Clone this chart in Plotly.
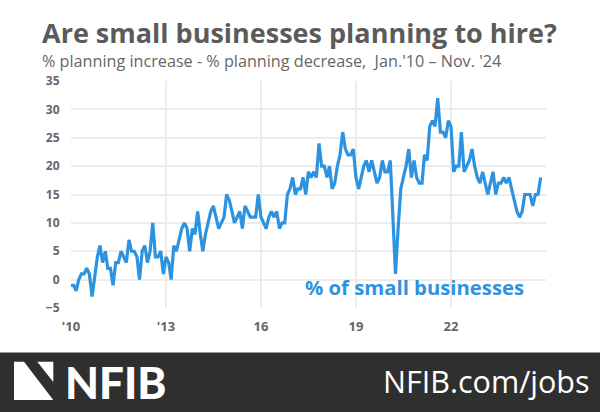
import pandas as pd
import plotly.graph_objects as go

# ── Data (Jan 2010 – Nov 2024) ──────────────────────────────────────────────
START_MONTH = "2010-01-01"

net_hiring_plans = [
    # 2010
    -1, -1, -2, 0, 1, 1, 2, 1, -3, 1, 4, 6,
    # 2011
    3, 5, 2, 2, -1, 3, 3, 5, 4, 3, 7, 5,
    # 2012
    5, 4, 0, 5, 6, 3, 5, 10, 4, 4, 5, 1,
    # 2013
    4, 3, 0, 6, 5, 7, 9, 10, 9, 5, 9, 8,
    # 2014
    12, 8, 5, 8, 10, 12, 13, 11, 9, 10, 11, 15,
    # 2015
    14, 12, 10, 11, 12, 9, 13, 12, 11, 11, 11, 15,
    # 2016
    11, 10, 9, 11, 12, 11, 12, 9, 10, 10, 15, 16,
    # 2017
    18, 15, 16, 16, 18, 15, 19, 18, 19, 18, 24, 20,
    # 2018
    20, 18, 20, 16, 17, 20, 22, 26, 23, 22, 22, 23,
    # 2019
    18, 16, 18, 20, 21, 19, 21, 19, 17, 18, 21, 19,
    # 2020
    19, 21, 11, 1, 9, 16, 18, 20, 23, 18, 21, 18,
    # 2021
    17, 17, 22, 21, 27, 28, 27, 32, 26, 26, 25, 28,
    # 2022
    27, 19, 20, 20, 26, 19, 20, 21, 23, 20, 18, 17,
    # 2023
    19, 17, 15, 17, 19, 15, 17, 17, 18, 17, 18, 16,
    # 2024
    14, 12, 11, 12, 15, 15, 15, 13, 15, 15, 18,
]

x_tick_dates = ["2010-01-01", "2013-01-01", "2016-01-01", "2019-01-01", "2022-01-01"]
x_tick_labels = ["'10", "'13", "16", "19", "22"]
y_tick_values = [-5, 0, 5, 10, 15, 20, 25, 30, 35]

months = pd.date_range(START_MONTH, periods=len(net_hiring_plans), freq="MS")

# ── Layout geometry (pixels) ────────────────────────────────────────────────
W, H = 600, 412
M_L, M_R, M_T, M_B = 71, 54, 81, 104
PW, PH = W - M_L - M_R, H - M_T - M_B

BLUE = "#2d93e1"
GREY = "#5b5b5b"
DARK = "#2f2f2f"


def px(x):
    return (x - M_L) / PW


def py(y):
    return (H - M_B - y) / PH


def path(points):
    return "M " + " L ".join(f"{px(x):.4f},{py(y):.4f}" for x, y in points) + " Z"


fig = go.Figure()
fig.add_trace(
    go.Scatter(
        x=months,
        y=net_hiring_plans,
        mode="lines",
        line=dict(color=BLUE, width=3.2),
        hoverinfo="x+y",
        showlegend=False,
    )
)

shapes = [
    # footer band
    dict(type="rect", xref="paper", yref="paper", x0=px(0), x1=px(W), y0=py(352.5), y1=py(H),
         fillcolor=DARK, line=dict(width=0), layer="below"),
    # NFIB mark
    dict(type="path", xref="paper", yref="paper",
         path=path([(14, 361.7), (24, 361.7), (53.3, 400), (14, 400)]),
         fillcolor="white", line=dict(width=0)),
    dict(type="path", xref="paper", yref="paper",
         path=path([(37.3, 361.7), (53.3, 361.7), (53.3, 382)]),
         fillcolor="white", line=dict(width=0)),
]

annotations = [
    dict(text="<b>Are small businesses planning to hire?</b>", x=px(40), y=py(32),
         xanchor="left", yanchor="middle",
         font=dict(family="Open Sans", size=27, color=GREY)),
    dict(text="% planning increase - % planning decrease,  Jan.'10 – Nov. '24", x=px(40), y=py(61),
         xanchor="left", yanchor="middle",
         font=dict(family="Open Sans", size=16.2, color="#666666")),
    dict(text="<b>% of small businesses</b>", x=px(414), y=py(287),
         xanchor="center", yanchor="middle",
         font=dict(family="Open Sans", size=20.3, color=BLUE)),
    dict(text="NFIB", x=px(63), y=py(382),
         xanchor="left", yanchor="middle",
         font=dict(family="Lato", size=44, color="white", weight=900)),
    dict(text="NFIB.com/jobs", x=px(592), y=py(381),
         xanchor="right", yanchor="middle",
         font=dict(family="Open Sans", size=30.5, color="white")),
]
for a in annotations:
    a.update(xref="paper", yref="paper", showarrow=False)

fig.update_layout(
    width=W,
    height=H,
    margin=dict(l=M_L, r=M_R, t=M_T, b=M_B),
    paper_bgcolor="white",
    plot_bgcolor="white",
    shapes=shapes,
    annotations=annotations,
    font=dict(family="Open Sans"),
)

fig.update_xaxes(
    range=["2010-01-01", "2025-01-01"],
    tickvals=x_tick_dates,
    ticktext=x_tick_labels,
    showgrid=True,
    gridcolor="#ececec",
    gridwidth=2,
    zeroline=False,
    showline=False,
    ticks="outside",
    ticklen=6,
    tickcolor="rgba(0,0,0,0)",
    tickfont=dict(family="Open Sans", size=13, color="#666666", weight="bold"),
)
fig.update_yaxes(
    range=[-5, 35],
    tickvals=y_tick_values,
    showgrid=True,
    gridcolor="#ececec",
    gridwidth=2,
    zeroline=False,
    showline=False,
    ticks="outside",
    ticklen=8,
    tickcolor="rgba(0,0,0,0)",
    tickfont=dict(family="Open Sans", size=12, color="#666666", weight="bold"),
)

# the page's default 8px body margin would shift the chart inside the window
fig.write_html(
    "out.html",
    config={"displayModeBar": False},
    post_script="document.body.style.margin = '0';",
)
